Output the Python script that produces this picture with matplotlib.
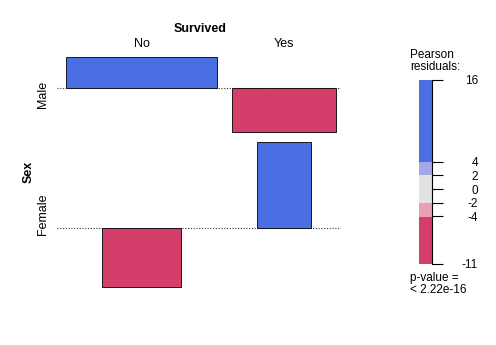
import matplotlib
matplotlib.use("Agg")
import matplotlib.pyplot as plt
import numpy as np
from matplotlib.patches import Rectangle
from matplotlib.colors import ListedColormap, BoundaryNorm
import matplotlib.transforms as mtrans

plt.rcParams["font.family"] = ["Liberation Sans", "DejaVu Sans"]

# Titanic: Sex x Survived
sex = ["Male", "Female"]
survived = ["No", "Yes"]
observed = np.array([[1364, 367],
                     [126, 344]])

# legend bins of the residual shading
legend_breaks = [-11, -4, -2, 2, 4, 16]
legend_colors = ["#D33F6A", "#E9A0B0", "#E2E2E2", "#A4A8E6", "#4A6FE3"]
legend_ticks = [-11, -4, -2, 0, 2, 4, 16]
p_text = "p-value =\n< 2.22e-16"

# expected counts and Pearson residuals
n = observed.sum()
expected = np.outer(observed.sum(1), observed.sum(0)) / n
resid = (observed - expected) / np.sqrt(expected)
width = np.sqrt(expected)

def shade(r):
    for i in range(len(legend_colors)):
        if r <= legend_breaks[i + 1]:
            return legend_colors[i]
    return legend_colors[-1]

fig = plt.figure(figsize=(4.96, 3.45), dpi=100)

# column layout (x in sqrt(expected) units)
col_w = width.max(axis=0)
xgap = 3.4
col_left = np.concatenate([[0], np.cumsum(col_w + xgap)[:-1]])
col_mid = col_left + col_w / 2

# row layout (y in residual units, bottom row first)
ygap = 1.82
pos_h = np.maximum(resid.max(axis=1), 0)
neg_h = np.maximum(-resid.min(axis=1), 0)
base = np.zeros(len(sex))
y = -neg_h[-1]
for i in range(len(sex) - 1, -1, -1):
    base[i] = y + neg_h[i]
    y = base[i] + pos_h[i] + ygap
ylo = base[-1] - neg_h[-1]
yhi = base[0] + pos_h[0]

ax = fig.add_axes([57 / 496, 58 / 345, 284 / 496, 230 / 345])
ax.set_xlim(-2.04, col_left[-1] + col_w[-1] + 1.1)
ax.set_ylim(ylo, yhi)
ax.axis("off")

for i in range(len(sex)):
    ax.axhline(base[i], color="#333333", lw=0.8, ls=(0, (1, 1.5)), zorder=1)
    for j in range(len(survived)):
        r = resid[i, j]
        ax.add_patch(Rectangle((col_mid[j] - width[i, j] / 2, base[i]),
                               width[i, j], r, facecolor=shade(r),
                               edgecolor="black", lw=0.6, zorder=2,
                               clip_on=False))

# labels
trx = mtrans.blended_transform_factory(ax.transData, fig.transFigure)
fig.text(200 / 496, 1 - 29 / 345, "Survived", ha="center", va="center",
         fontsize=9, fontweight="bold")
for j, lab in enumerate(survived):
    ax.text(col_mid[j], 1 - 44 / 345, lab, transform=trx, ha="center",
            va="center", fontsize=9)
try_ = mtrans.blended_transform_factory(fig.transFigure, ax.transData)
for i, lab in enumerate(sex):
    mid = (base[i] + pos_h[i] + base[i] - neg_h[i]) / 2
    ax.text(43 / 496, mid, lab, transform=try_, rotation=90, ha="center",
            va="center", fontsize=9)
fig.text(29 / 496, 1 - 172 / 345, "Sex", rotation=90, ha="center",
         va="center", fontsize=9, fontweight="bold")

# legend
lax = fig.add_axes([419 / 496, 81 / 345, 13 / 496, 184 / 345])
cmap = ListedColormap(legend_colors)
norm = BoundaryNorm(legend_breaks, cmap.N)
yy = np.linspace(legend_breaks[0], legend_breaks[-1], 400)
lax.pcolormesh([0, 1], yy, ((yy[:-1] + yy[1:]) / 2)[:, None], cmap=cmap,
               norm=norm, shading="flat")
lax.set_xlim(0, 1)
lax.set_ylim(legend_breaks[0], legend_breaks[-1])
lax.set_xticks([])
lax.yaxis.tick_right()
lax.set_yticks(legend_ticks)
lax.set_yticklabels([str(t) for t in legend_ticks])
lax.tick_params(axis="y", length=8, width=0.8, pad=25, labelsize=8.5)
for t in lax.yaxis.get_majorticklabels():
    t.set_ha("right")
for s in ["top", "bottom", "left"]:
    lax.spines[s].set_visible(False)
lax.spines["right"].set_linewidth(0.8)

fig.text(410 / 496, 1 - 61 / 345, "Pearson\nresiduals:", ha="left",
         va="center", fontsize=8.5, linespacing=0.95)
fig.text(410 / 496, 1 - 284 / 345, p_text, ha="left", va="center",
         fontsize=8.5, linespacing=0.95)

fig.savefig("out.png", dpi=100, facecolor="white")
